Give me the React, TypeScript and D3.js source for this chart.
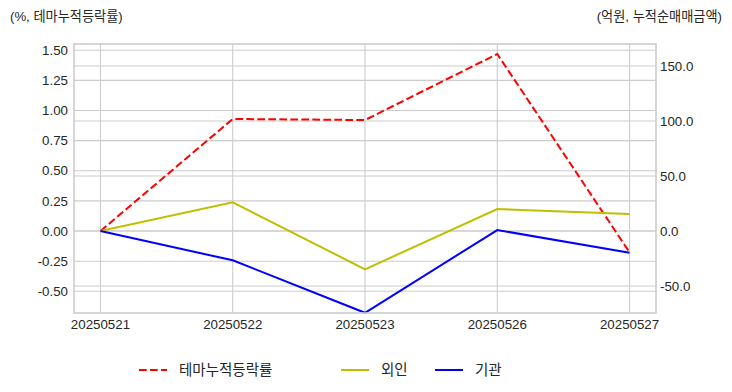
import { line, scaleLinear, scalePoint } from "d3";

const dates = ["20250521", "20250522", "20250523", "20250526", "20250527"];
const themeReturn = [0, 0.93, 0.921, 1.469, -0.177];
const foreign = [0, 26.1, -34.8, 20.0, 15.5];
const institution = [0, -26.6, -74.3, 0.9, -19.7];
const leftTicks = [-0.5, -0.25, 0, 0.25, 0.5, 0.75, 1.0, 1.25, 1.5];
const rightTicks = [-50, 0, 50, 100, 150];

const width = 732;
const height = 392;
const plot = { left: 74, right: 656, top: 44, bottom: 313 };
const font = "'Liberation Sans', Arial, 'Noto Sans CJK KR', sans-serif";
const textColor = "#262626";
const gridColor = "#cccccc";

export default function App(): React.JSX.Element {
  const x = scalePoint<string>()
    .domain(dates)
    .range([plot.left, plot.right])
    .padding(0.2);
  const yLeft = scaleLinear().domain([-0.68, 1.552]).range([plot.bottom, plot.top]);
  const yRight = scaleLinear().domain([-74.5, 170]).range([plot.bottom, plot.top]);

  const leftPath = line<number>()
    .x((_, i) => x(dates[i]) ?? 0)
    .y((d) => yLeft(d));
  const rightPath = line<number>()
    .x((_, i) => x(dates[i]) ?? 0)
    .y((d) => yRight(d));

  const legend = [
    { label: "테마누적등락률", color: "#ff0000", dash: "7.7 3.3", x: 139 },
    { label: "외인", color: "#bfbf00", dash: undefined, x: 341 },
    { label: "기관", color: "#0000ff", dash: undefined, x: 435 }
  ];

  return (
    <svg
      width={width}
      height={height}
      style={{ position: "absolute", left: 0, top: 0, background: "#fff" }}
      fontFamily={font}
    >
      <text x={10} y={21} fontSize={13.2} fill={textColor}>
        (%, 테마누적등락률)
      </text>
      <text x={722} y={21} fontSize={13.2} fill={textColor} textAnchor="end">
        (억원, 누적순매매금액)
      </text>

      <g stroke={gridColor} strokeWidth={1.1}>
        {dates.map((d) => (
          <line key={`v${d}`} x1={x(d)} x2={x(d)} y1={plot.top} y2={plot.bottom} />
        ))}
        {leftTicks.map((t) => (
          <line key={`l${t}`} x1={plot.left} x2={plot.right} y1={yLeft(t)} y2={yLeft(t)} />
        ))}
        {rightTicks.map((t) => (
          <line key={`r${t}`} x1={plot.left} x2={plot.right} y1={yRight(t)} y2={yRight(t)} />
        ))}
      </g>

      <path
        d={leftPath(themeReturn) ?? ""}
        fill="none"
        stroke="#ff0000"
        strokeWidth={2}
        strokeDasharray="7.7 3.3"
      />
      <path d={rightPath(foreign) ?? ""} fill="none" stroke="#bfbf00" strokeWidth={2} />
      <path d={rightPath(institution) ?? ""} fill="none" stroke="#0000ff" strokeWidth={2} />

      <rect
        x={plot.left}
        y={plot.top}
        width={plot.right - plot.left}
        height={plot.bottom - plot.top}
        fill="none"
        stroke={gridColor}
        strokeWidth={1.6}
      />

      <g fontSize={13.3} fill={textColor}>
        {leftTicks.map((t) => (
          <text key={`lt${t}`} x={plot.left - 6} y={yLeft(t) + 4.7} textAnchor="end">
            {t.toFixed(2)}
          </text>
        ))}
        {rightTicks.map((t) => (
          <text key={`rt${t}`} x={plot.right + 4} y={yRight(t) + 4.7}>
            {t.toFixed(1)}
          </text>
        ))}
        {dates.map((d) => (
          <text key={`xt${d}`} x={x(d)} y={plot.bottom + 16} textAnchor="middle">
            {d}
          </text>
        ))}
      </g>

      <g fontSize={14.5} fill={textColor}>
        {legend.map((item) => (
          <g key={item.label}>
            <line
              x1={item.x}
              x2={item.x + 28}
              y1={370}
              y2={370}
              stroke={item.color}
              strokeWidth={2}
              strokeDasharray={item.dash}
            />
            <text x={item.x + 40} y={375}>
              {item.label}
            </text>
          </g>
        ))}
      </g>
    </svg>
  );
}
